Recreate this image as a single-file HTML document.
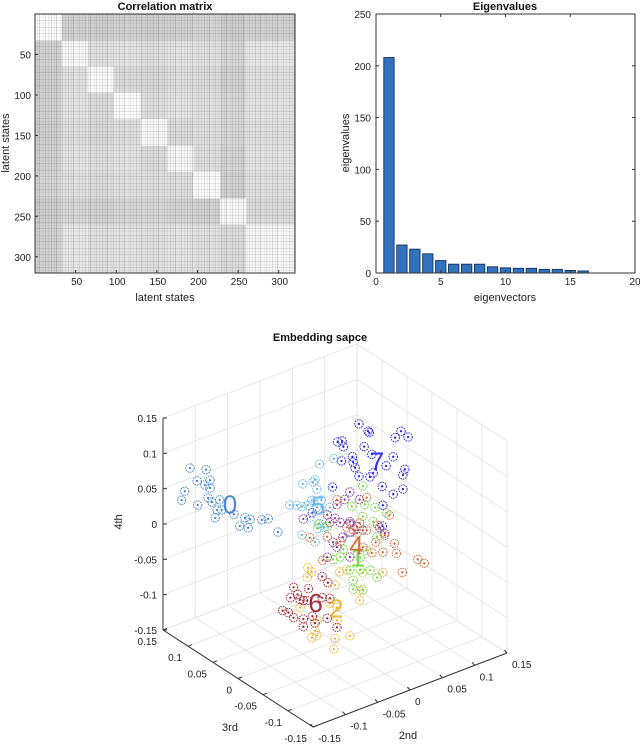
<!DOCTYPE html>
<html><head><meta charset="utf-8">
<style>
html,body{margin:0;padding:0;background:#fff;}
body{width:640px;height:744px;overflow:hidden;font-family:"Liberation Sans",Arial,sans-serif;}
svg text{font-family:"Liberation Sans",Arial,sans-serif;}
</style></head>
<body>
<svg id="fig" width="640" height="744" viewBox="0 0 640 744" xmlns="http://www.w3.org/2000/svg">
<defs>
<pattern id="vstripe" width="17" height="10" patternUnits="userSpaceOnUse">
<rect x="0" y="0" width="1" height="10" fill="#000" opacity="0.11"/>
<rect x="3" y="0" width="1" height="10" fill="#000" opacity="0.05"/>
<rect x="5" y="0" width="1" height="10" fill="#000" opacity="0.14"/>
<rect x="9" y="0" width="1" height="10" fill="#000" opacity="0.04"/>
<rect x="11" y="0" width="1" height="10" fill="#000" opacity="0.09"/>
<rect x="14" y="0" width="1" height="10" fill="#000" opacity="0.06"/>
</pattern>
<pattern id="hstripe" width="10" height="13" patternUnits="userSpaceOnUse">
<rect x="0" y="1" width="10" height="1" fill="#000" opacity="0.08"/>
<rect x="0" y="4" width="10" height="1" fill="#000" opacity="0.04"/>
<rect x="0" y="7" width="10" height="1" fill="#000" opacity="0.09"/>
<rect x="0" y="10" width="10" height="1" fill="#000" opacity="0.04"/>
</pattern>
</defs>
<g id="corr"></g>
<g id="eig"></g>
<g id="emb"></g>
</svg>
<script>
// ===== Correlation matrix data =====
const corrBlocks = [0, 33, 65, 97, 130, 163, 195, 228, 260, 320];
const corrValues = [
 [0.97,0.66,0.64,0.66,0.64,0.66,0.68,0.62,0.66],
 [0.66,0.95,0.78,0.80,0.76,0.80,0.78,0.70,0.82],
 [0.64,0.78,0.96,0.74,0.72,0.76,0.74,0.66,0.78],
 [0.66,0.80,0.74,0.98,0.76,0.80,0.78,0.70,0.80],
 [0.64,0.76,0.72,0.76,0.95,0.74,0.76,0.70,0.78],
 [0.66,0.80,0.76,0.80,0.74,0.94,0.76,0.68,0.80],
 [0.68,0.78,0.74,0.78,0.76,0.76,0.98,0.66,0.78],
 [0.62,0.70,0.66,0.70,0.70,0.68,0.66,0.95,0.74],
 [0.66,0.82,0.78,0.80,0.78,0.80,0.78,0.74,0.94]
];
const corrTicks = [50, 100, 150, 200, 250, 300];

// ===== Eigenvalues data =====
const eigIndex = [1,2,3,4,5,6,7,8,9,10,11,12,13,14,15,16];
const eigValues = [208,27,23,18.5,12,8.5,8.5,8.5,6,5,4.5,4.5,3.5,3.5,2.5,2];
const eigXTicks = [0,5,10,15,20];
const eigYTicks = [0,50,100,150,200,250];

// ===== Embedding data (2nd, 3rd, 4th) =====
const clusterNames = ["0","5","7","2","6","3","1","4"];
const clusterColors = ["#3a7dc9","#5cb3ea","#1a1ae6","#eab02a","#9e1a2a","#7e2f8e","#66d92a","#d2602a"];
const clusterCenters = [
 [-0.093,0.1,0.037],[-0.039,0,0.0495],[0.062,0,0.078],[-0.008,0,-0.106],
 [-0.046,0,-0.082],[0.023,0,0.0025],[0.031,0,-0.031],[0.046,0,-0.0225]
];
// offsets in units of 0.01 : [d2nd, d4th]
const clusterOffsets = [
 [[-5.4,6.4],[-2.9,5.3],[-2.3,3.6],[-6.2,3.4],[-6.7,2.3],[-4.3,4.2],[-3.1,3.2],[-2.3,2.5],[-2.6,1.2],[-4.2,0.75],[-2.0,0.4],[-0.8,0.3],[-1.2,-1.0],[-1.5,-2.0],[-0.5,-1.25],[1.4,-2.5],[3.1,-3.6],[3.9,-4.1],[2.3,-4.5],[5.7,-4.8],[6.7,-5.0],[8.2,-7.4],[3.6,-5.2]],
 [[1.5,6.0],[3.7,6.0],[-1.1,4.1],[0.5,3.8],[0.8,4.0],[1.1,2.6],[-3.1,1.8],[-2.0,1.4],[-1.2,0.9],[-0.3,0.8],[0.3,1.3],[1.1,0.05],[1.8,0.8],[3.1,-0.7],[0,-1.0],[1.5,-2.4],[-1.2,-3.1],[0.8,-4.8],[1.2,-3.0],[2.2,-3.2]],
 [[-2.5,6.7],[-1.1,5.2],[-0.9,4.9],[4.0,3.4],[3.1,2.8],[5.1,2.2],[-5.8,5.3],[-5.1,5.2],[-4.9,4.3],[-1.7,3.2],[-3.5,2.4],[-3.4,1.6],[-5.2,2.4],[-0.5,1.7],[2.8,0.2],[1.7,-0.7],[-3.1,0.7],[-2.5,-0.7],[-0.8,-1.4],[-0.3,-1.0],[4.6,-2.2],[4.3,-2.9],[1.1,-3.4],[2.8,-5.1],[4.3,-4.9],[-6.6,-0.8],[1.2,-6.1],[1.1,-9.0]],
 [[-3.4,7.5],[-2.8,6.7],[-3.5,6.2],[1.5,5.2],[2.6,5.1],[5.1,3.8],[8.2,2.8],[0.8,3.6],[4.6,1.5],[4.6,0.1],[-4.6,2.3],[0,1.3],[1.1,0.3],[-2.0,-0.4],[-2.8,-2.6],[-2.0,-2.6],[0.8,-4.0],[0.6,-5.4],[3.1,-4.4],[1.1,-1.5],[-2.3,-1.8]],
 [[-1.8,3.1],[0.5,2.1],[2.6,3.1],[3.5,1.9],[-2.3,1.8],[-1.2,1.9],[-0.8,1.0],[-0.3,0.7],[2.6,0.1],[3.8,-0.4],[-3.5,0.4],[-2.6,-0.2],[-1.8,-1.2],[-0.3,-1.9],[1.1,-2.0],[3.4,-3.1],[4.9,-4.9],[1.5,-3.1],[-0.3,-3.0],[0.3,0.5]],
 [[0,5.1],[-0.8,4.3],[-2.0,4.0],[1.5,3.5],[-7.2,3.8],[-5.8,4.2],[-3.5,3.1],[-3.1,1.9],[-2.3,2.2],[-1.5,1.3],[0,0.9],[1.1,-0.2],[-1.1,-0.9],[-2.6,-1.1],[-2.0,-2.0],[0,-4.1],[5.4,-2.6],[4.6,-1.5],[2.0,-1.0],[-3.5,-2.9]],
 [[1.2,8.6],[-0.5,6.3],[1.5,5.9],[3.1,4.9],[-5.7,5.6],[-4.3,4.8],[1.2,4.3],[2.8,3.0],[4.9,3.5],[3.4,0.7],[-2.3,-0.2],[-3.4,-0.2],[0.8,-1.4],[1.8,-0.7],[-0.8,-2.6],[0.8,-3.1],[2.3,-3.7],[-0.3,-4.2],[-0.3,-5.5],[1.2,-6.1],[3.4,-5.1],[-1.8,0.7]],
 [[0.3,5.9],[-4.3,7.2],[-8.5,3.3],[-5.8,2.5],[-2.8,2.8],[-1.8,2.1],[-0.8,2.7],[0.3,1.3],[2.0,1.4],[3.8,2.2],[3.1,-0.4],[1.7,-0.9],[4.6,-2.1],[4.9,-3.6],[2.8,-2.7],[-0.3,-0.9],[-6.5,-0.6],[-3.8,1.1],[8.2,-5.6],[9.2,-6.5],[5.8,-6.6],[1.1,-2.2],[-1.2,1.4]]
];
// label offsets (in 0.01 units) relative to cluster center: [d2nd, d4th]
const labelOffsets = [[0.8,-0.9],[1.3,0.2],[0.3,0.4],[1.0,0.2],[1.6,-0.3],[0,0],[0.4,-1.2],[-1.3,-0.3]];
const embTicks = [-0.15,-0.1,-0.05,0,0.05,0.1,0.15];
</script>
<script>
const NS="http://www.w3.org/2000/svg";
function mk(parent,tag,attrs,text){const e=document.createElementNS(NS,tag);for(const k in attrs)e.setAttribute(k,attrs[k]);if(text!==undefined)e.textContent=text;parent.appendChild(e);return e;}

// ---------- Correlation matrix ----------
(function(){
 const g=document.getElementById('corr');
 const L=35,R=295,T=14,B=273,N=320;
 const sx=v=>L+(v/N)*(R-L), sy=v=>T+(v/N)*(B-T);
 for(let i=0;i<corrValues.length;i++){
  for(let j=0;j<corrValues[i].length;j++){
   const gv=Math.round(120+135*corrValues[i][j]);
   const r=mk(g,'rect',{x:sx(corrBlocks[j]),y:sy(corrBlocks[i]),width:sx(corrBlocks[j+1])-sx(corrBlocks[j]),height:sy(corrBlocks[i+1])-sy(corrBlocks[i]),fill:`rgb(${gv},${gv},${gv})`});
   
   
  }
 }
 const t1=mk(g,'rect',{x:L,y:T,width:R-L,height:B-T,fill:'url(#vstripe)'});
 
 
 const t2=mk(g,'rect',{x:L,y:T,width:R-L,height:B-T,fill:'url(#hstripe)'});
 
 
 const fr=mk(g,'rect',{x:L,y:T,width:R-L,height:B-T,fill:'none',stroke:'#333','stroke-width':1});
 
 
 corrTicks.forEach(t=>{
  const xl=mk(g,'text',{x:sx(t)+1,y:B+12,'font-size':10,'text-anchor':'middle',fill:'#222'},String(t));
  
  
  const yl=mk(g,'text',{x:L-4,y:sy(t)+4,'font-size':10,'text-anchor':'end',fill:'#222'},String(t));
  
  
  mk(g,'line',{x1:sx(t),x2:sx(t),y1:B,y2:B-3,stroke:'#333'});
  mk(g,'line',{x1:L,x2:L+3,y1:sy(t),y2:sy(t),stroke:'#333'});
 });
 const ti=mk(g,'text',{x:165,y:10,'font-size':11,'font-weight':'bold','text-anchor':'middle',fill:'#111'},'Correlation matrix');
 
 
 const xt=mk(g,'text',{x:165,y:301,'font-size':11,'text-anchor':'middle',fill:'#222'},'latent states');
 
 
 const yt=mk(g,'text',{x:0,y:0,'font-size':11,'text-anchor':'middle',fill:'#222',transform:'translate(9,143) rotate(-90)'},'latent states');
 
 
})();

// ---------- Eigenvalues ----------
(function(){
 const g=document.getElementById('eig');
 const L=376,R=635,T=14,B=273;
 const sx=v=>L+(v/20)*(R-L), sy=v=>B-(v/250)*(B-T);
 mk(g,'rect',{x:L,y:T,width:R-L,height:B-T,fill:'#fff'});
 eigValues.forEach((v,i)=>{
  const x0=sx(eigIndex[i]-0.4), x1=sx(eigIndex[i]+0.4);
  const r=mk(g,'rect',{x:x0,y:sy(v),width:x1-x0,height:sy(0)-sy(v),fill:'#3271bd',stroke:'#14335e','stroke-width':0.9});
  
  
 });
 const fr=mk(g,'rect',{x:L,y:T,width:R-L,height:B-T,fill:'none',stroke:'#333','stroke-width':1});
 
 
 eigXTicks.forEach(t=>{
  const l=mk(g,'text',{x:sx(t),y:B+12,'font-size':10,'text-anchor':'middle',fill:'#222'},String(t));
  
  
  mk(g,'line',{x1:sx(t),x2:sx(t),y1:B,y2:B-3,stroke:'#333'});
  mk(g,'line',{x1:sx(t),x2:sx(t),y1:T,y2:T+3,stroke:'#333'});
 });
 eigYTicks.forEach(t=>{
  const l=mk(g,'text',{x:L-5,y:sy(t)+4,'font-size':10,'text-anchor':'end',fill:'#222'},String(t));
  
  
  mk(g,'line',{x1:L,x2:L+3,y1:sy(t),y2:sy(t),stroke:'#333'});
  mk(g,'line',{x1:R,x2:R-3,y1:sy(t),y2:sy(t),stroke:'#333'});
 });
 const ti=mk(g,'text',{x:505,y:10,'font-size':11,'font-weight':'bold','text-anchor':'middle',fill:'#111'},'Eigenvalues');
 
 
 const xt=mk(g,'text',{x:505,y:301,'font-size':11,'text-anchor':'middle',fill:'#222'},'eigenvectors');
 
 
 const yt=mk(g,'text',{x:0,y:0,'font-size':11,'text-anchor':'middle',fill:'#222',transform:'translate(349,143) rotate(-90)'},'eigenvalues');
 
 
})();

// ---------- Embedding space 3D ----------
(function(){
 const g=document.getElementById('emb');
 function P(a,b,c){const u=(a+0.15)/0.3,v=(b+0.15)/0.3,w=(c+0.15)/0.3;return [313+194*u-150*v,727-74*u-97*v-212*w];}
 const grid=mk(g,'g',{stroke:'#e2e2e2','stroke-width':0.8,fill:'none'});
 
 
 const lo=-0.15,hi=0.15;
 function line(p,q,par){return mk(par,'line',{x1:p[0],y1:p[1],x2:q[0],y2:q[1]});}
 embTicks.forEach(t=>{
  line(P(t,lo,lo),P(t,hi,lo),grid);
  line(P(lo,t,lo),P(hi,t,lo),grid);
  line(P(t,hi,lo),P(t,hi,hi),grid);
  line(P(lo,hi,t),P(hi,hi,t),grid);
  line(P(hi,t,lo),P(hi,t,hi),grid);
  line(P(hi,lo,t),P(hi,hi,t),grid);
 });
 const ax=mk(g,'g',{stroke:'#333','stroke-width':1});
 
 
 line(P(lo,hi,lo),P(lo,hi,hi),ax);
 line(P(lo,hi,lo),P(lo,lo,lo),ax);
 line(P(lo,lo,lo),P(hi,lo,lo),ax);
 const fmt=t=>(Math.round(t*100)/100).toString();
 embTicks.forEach(t=>{
  const z=P(lo,hi,t);
  line(z,[z[0]+4,z[1]],ax);
  const zl=mk(g,'text',{x:z[0]-6,y:z[1]+4,'font-size':10,'text-anchor':'end',fill:'#222'},fmt(t));
  
  
  const b=P(lo,t,lo);
  line(b,[b[0]+4,b[1]-1.5],ax);
  const bl=mk(g,'text',{x:b[0]-6,y:b[1]+15,'font-size':10,'text-anchor':'end',fill:'#222'},fmt(t));
  
  
  const a=P(t,lo,lo);
  line(a,[a[0]-2.5,a[1]-3],ax);
  const al=mk(g,'text',{x:a[0]+5,y:a[1]+15,'font-size':10,'text-anchor':'start',fill:'#222'},fmt(t));
  
  
 });
 function drawLabel(ci,op){
  const c=clusterCenters[ci],o=labelOffsets[ci],n=clusterNames[ci];
  const p=P(c[0]+o[0]/100,c[1],c[2]+o[1]/100);
  const t=mk(g,'text',{x:p[0],y:p[1]+9,'font-size':26,'text-anchor':'middle',fill:clusterColors[ci],'fill-opacity':op},n);
  
  
 }
 drawLabel(5,0.5);
 const pts=mk(g,'g',{});
 
 
 clusterOffsets.forEach((offs,ci)=>{
  const cg=mk(pts,'g',{stroke:clusterColors[ci],fill:'none'});
  
  
  const c=clusterCenters[ci];
  offs.forEach(o=>{
   const p=P(c[0]+o[0]/100,c[1],c[2]+o[1]/100);
   mk(cg,'circle',{cx:p[0],cy:p[1],r:4.2,'stroke-width':0.9,'stroke-dasharray':'1.6 0.9'});
   const d=mk(cg,'circle',{cx:p[0],cy:p[1],r:1.1,fill:clusterColors[ci],stroke:'none'});
   
   
  });
 });
 clusterNames.forEach((n,ci)=>{ if(ci!==5) drawLabel(ci,0.9); });
 const ti=mk(g,'text',{x:320,y:341,'font-size':11,'font-weight':'bold','text-anchor':'middle',fill:'#111'},'Embedding sapce');
 
 
 const zt=mk(g,'text',{x:0,y:0,'font-size':11,'text-anchor':'middle',fill:'#222',transform:'translate(122,522) rotate(-90)'},'4th');
 
 
 const bt=mk(g,'text',{x:230,y:731,'font-size':11,'text-anchor':'middle',fill:'#222'},'3rd');
 
 
 const at=mk(g,'text',{x:408,y:739,'font-size':11,'text-anchor':'middle',fill:'#222'},'2nd');
 
 
})();
</script>
</body></html>
